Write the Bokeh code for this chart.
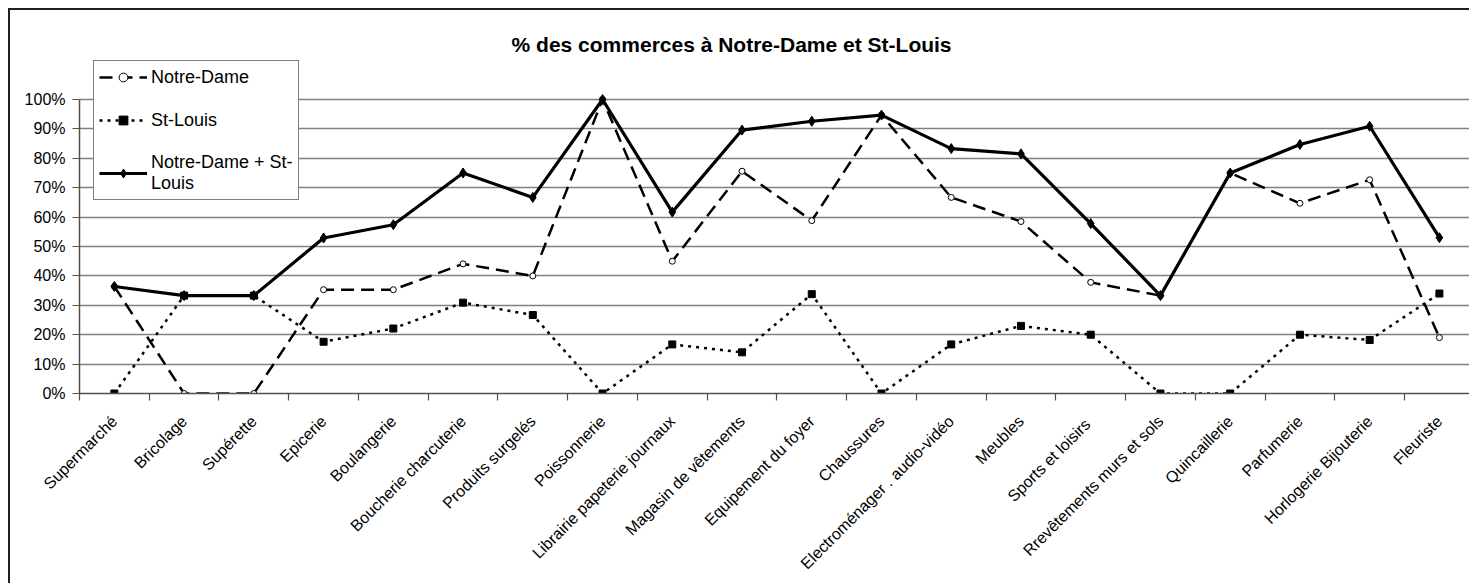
import math
from bokeh.plotting import figure
from bokeh.models import Range1d, FixedTicker, NumeralTickFormatter, Legend, LegendItem, Label
from bokeh.embed import file_html
from bokeh.resources import INLINE

# ---------------- data ----------------
categories = [
    "Supermarché", "Bricolage", "Supérette", "Epicerie", "Boulangerie",
    "Boucherie charcuterie", "Produits surgelés", "Poissonnerie",
    "Librairie papeterie journaux", "Magasin de vêtements", "Equipement du foyer",
    "Chaussures", "Electroménager . audio-vidéo", "Meubles", "Sports et  loisirs",
    "Rrevêtements murs et sols", "Quincaillerie", "Parfumerie",
    "Horlogerie Bijouterie", "Fleuriste",
]
notre_dame = [0.364, 0.0, 0.0, 0.353, 0.353, 0.441, 0.400, 1.0, 0.450, 0.756,
              0.588, 0.947, 0.667, 0.585, 0.378, 0.333, 0.750, 0.647, 0.727, 0.190]
st_louis = [0.0, 0.333, 0.333, 0.176, 0.221, 0.309, 0.267, 0.0, 0.167, 0.140,
            0.338, 0.0, 0.167, 0.230, 0.200, 0.0, 0.0, 0.200, 0.182, 0.340]
total = [0.364, 0.333, 0.333, 0.529, 0.574, 0.750, 0.667, 1.0, 0.617, 0.896,
         0.926, 0.947, 0.833, 0.815, 0.578, 0.333, 0.750, 0.847, 0.909, 0.530]
y_ticks = [0.0, 0.1, 0.2, 0.3, 0.4, 0.5, 0.6, 0.7, 0.8, 0.9, 1.0]
series_names = ["Notre-Dame", "St-Louis", "Notre-Dame + St-\nLouis"]
title_text = "% des commerces à Notre-Dame et St-Louis"

FONT = "Liberation Sans"
AXIS_COLOR = "#505050"
GRID_COLOR = "#808080"

n = len(categories)
xs = [i + 0.5 for i in range(n)]
boundaries = list(range(n + 1))

p = figure(
    width=1461, height=575,
    output_backend="svg", toolbar_location=None,
    x_range=Range1d(0, 19.96), y_range=Range1d(0, 1.3027),
    min_border_left=69, min_border_right=0, min_border_top=0, min_border_bottom=192,
)
p.styles = {
    "margin-left": "8px", "margin-top": "8px",
    "border-left": "2px solid #1e1e1e", "border-top": "2px solid #1e1e1e",
}
p.outline_line_color = None
p.background_fill_color = "white"
p.border_fill_color = "white"

# y axis
yax = p.yaxis[0]
yax.ticker = FixedTicker(ticks=y_ticks)
yax.bounds = (0, 1)
yax.formatter = NumeralTickFormatter(format="0%")
yax.axis_line_color = AXIS_COLOR
yax.axis_line_width = 1.5
yax.major_tick_line_color = AXIS_COLOR
yax.major_tick_line_width = 1.2
yax.major_tick_in = 0
yax.major_tick_out = 7
yax.minor_tick_line_color = None
yax.major_label_text_font = FONT
yax.major_label_text_font_size = "16px"
yax.major_label_text_color = "black"
yax.major_label_standoff = 7

# x axis: labels at category centres, ticks at category boundaries
xax = p.xaxis[0]
xax.ticker = FixedTicker(ticks=xs, minor_ticks=boundaries)
xax.major_label_overrides = {x: c for x, c in zip(xs, categories)}
xax.major_label_orientation = math.pi / 4
xax.axis_line_color = AXIS_COLOR
xax.axis_line_width = 1.5
xax.major_tick_line_color = None
xax.major_tick_in = 0
xax.major_tick_out = 0
xax.minor_tick_line_color = AXIS_COLOR
xax.minor_tick_line_width = 1.2
xax.minor_tick_in = 0
xax.minor_tick_out = 7
xax.major_label_text_font = FONT
xax.major_label_text_font_size = "16px"
xax.major_label_text_color = "black"
xax.major_label_standoff = 18

p.xgrid.visible = False
p.ygrid.ticker = FixedTicker(ticks=y_ticks)
p.ygrid.grid_line_color = GRID_COLOR
p.ygrid.grid_line_width = 1.4

# series
l1 = p.line(xs, notre_dame, line_color="black", line_width=2.5, line_dash="13 7")
m1 = p.scatter(xs, notre_dame, marker="circle", size=6, fill_color="white",
               line_color="black", line_width=1)
l2 = p.line(xs, st_louis, line_color="black", line_width=2.5, line_dash="3 5")
m2 = p.scatter(xs, st_louis, marker="square", size=7, fill_color="black", line_color="black")
l3 = p.line(xs, total, line_color="black", line_width=3.2)
m3 = p.scatter(xs, total, marker="diamond", size=10, fill_color="black", line_color="black")

legend = Legend(
    items=[
        LegendItem(label=series_names[0], renderers=[l1, m1]),
        LegendItem(label=series_names[1], renderers=[l2, m2]),
        LegendItem(label=series_names[2], renderers=[l3, m3]),
    ],
    location=(14, 193),
    border_line_color="black", border_line_width=1.2,
    background_fill_color="white", background_fill_alpha=1,
    label_text_font=FONT, label_text_font_size="18px", label_text_color="black",
    label_text_line_height=1.35,
    glyph_width=48, glyph_height=22, label_height=22, label_standoff=4,
    padding=5, spacing=21, margin=0,
)
p.add_layout(legend)

title = Label(x=9.35, y=1.187, text=title_text, text_align="center",
              text_baseline="alphabetic", text_font=FONT, text_font_size="21px",
              text_font_style="bold", text_color="black")
p.add_layout(title)

open("out.html", "w").write(file_html(p, INLINE))
